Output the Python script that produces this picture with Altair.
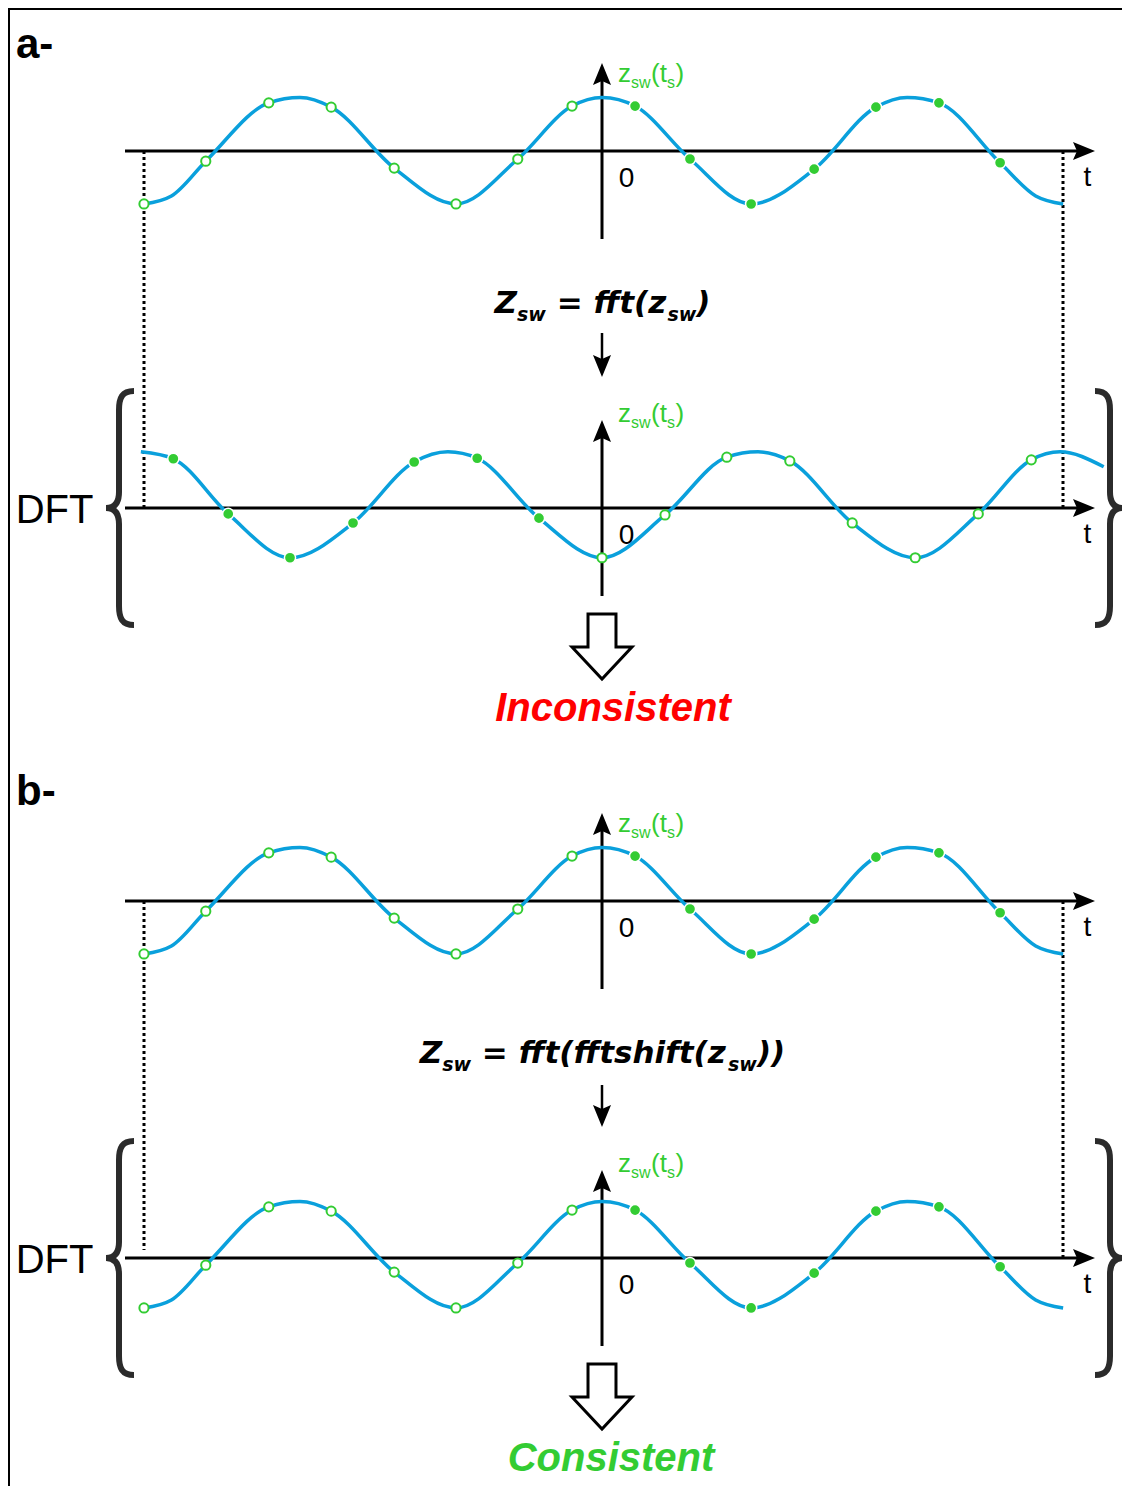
import altair as alt
import pandas as pd

# ---------------- values ----------------
# z_sw(t_s): sample instants (in sampling intervals, 0 on the vertical axis)
# and sample values (in units of the peak amplitude); 1 = hollow marker
zsw_t = [-7.34, -6.35, -5.34, -4.34, -3.33, -2.34, -1.35, -0.48, 0.53, 1.41, 2.39, 3.40, 4.39, 5.40, 6.38]
zsw_z = [-0.99, -0.19, 0.90, 0.82, -0.32, -0.99, -0.15, 0.84, 0.84, -0.15, -0.99, -0.34, 0.82, 0.90, -0.22]
zsw_hollow = [1, 1, 1, 1, 1, 1, 1, 1, 0, 0, 0, 0, 0, 0, 0]
# points (samples, extrema, ends)
zsw_curve_t = [-7.34, -6.90, -6.35, -5.34, -4.84, -4.34, -3.33, -2.34, -1.35, -0.48, 0.00, 0.53,
               1.41, 2.39, 3.40, 4.39, 4.89, 5.40, 6.38, 6.95, 7.39]
zsw_curve_z = [-0.99, -0.84, -0.19, 0.90, 1.00, 0.82, -0.32, -0.99, -0.15, 0.84, 1.00, 0.84,
               -0.15, -0.99, -0.34, 0.82, 1.00, 0.90, -0.22, -0.84, -0.99]

# DFT of panel a- (fft without fftshift)
dft_t = [-6.87, -5.99, -5.00, -3.99, -3.01, -2.00, -1.01, 0.00, 1.01, 2.00, 3.01, 4.01, 5.02, 6.03, 6.88]
dft_z = [0.92, -0.11, -0.93, -0.28, 0.86, 0.93, -0.19, -0.93, -0.13, 0.95, 0.88, -0.28, -0.93, -0.11, 0.90]
dft_hollow = [0, 0, 0, 0, 0, 0, 0, 1, 1, 1, 1, 1, 1, 1, 1]
dft_curve_t = [-7.39, -6.87, -5.99, -5.00, -3.99, -3.01, -2.47, -2.00, -1.01, 0.00, 1.01, 2.00,
               2.50, 3.01, 4.01, 5.02, 6.03, 6.88, 7.34, 8.04]
dft_curve_z = [1.05, 0.92, -0.11, -0.93, -0.28, 0.86, 1.05, 0.93, -0.19, -0.93, -0.13, 0.95,
               1.05, 0.88, -0.28, -0.93, -0.11, 0.90, 1.05, 0.77]

# texts
label_parts = ["z", "sw", "(t", "s", ")"]
eq_a_parts = ["Z", "sw", " = fft(z", "sw", ")"]
eq_b_parts = ["Z", "sw", " = fft(fftshift(z", "sw", "))"]
verdicts = ["Inconsistent", "Consistent"]
panel_tags = ["a-", "b-"]

# ---------------- layout & style ----------------
BLUE = "#0aa0dc"
GREEN = "#33cc33"
X0, DT, AMP = 602, 62.4, 53.5
W, H = 1114, 1478

panels = [
    dict(axis=151, base=151, wave="zsw", label_dy=-69),
    dict(axis=508, base=508, wave="dft", label_dy=-86),
    dict(axis=901, base=901, wave="zsw", label_dy=-69),
    dict(axis=1258, base=1255, wave="zsw", label_dy=-86),
]
waves = {
    "zsw": (zsw_t, zsw_z, zsw_hollow, zsw_curve_t, zsw_curve_z),
    "dft": (dft_t, dft_z, dft_hollow, dft_curve_t, dft_curve_z),
}

xs = alt.Scale(domain=[8, 8 + W], nice=False, zero=False)
ys = alt.Scale(domain=[8, 8 + H], nice=False, zero=False, reverse=True)


def XE(f="X"):
    return alt.X(f"{f}:Q", scale=xs, axis=None)


def YE(f="Y"):
    return alt.Y(f"{f}:Q", scale=ys, axis=None)


# ---- curves and markers ----
crv, mk = [], []
for i, p in enumerate(panels):
    st, sz, sh, ct, cz = waves[p["wave"]]
    for t, z in zip(ct, cz):
        crv.append(dict(id=i, t=t, z=z, base=p["base"]))
    for t, z, h in zip(st, sz, sh):
        mk.append(dict(id=i, t=t, z=z, base=p["base"], hollow=h))
curve_df = pd.DataFrame(crv)
mark_df = pd.DataFrame(mk)
to_px = dict(X=f"{X0} + {DT} * datum.t", Y=f"datum.base - {AMP} * datum.z")

curves = alt.Chart(curve_df).transform_calculate(**to_px).mark_line(
    interpolate="monotone", color=BLUE, strokeWidth=3.5
).encode(x=XE(), y=YE(), detail="id:N", order="t:Q")

hollow = alt.Chart(mark_df).transform_filter("datum.hollow == 1").transform_calculate(**to_px).mark_point(
    shape="circle", filled=True, fill="white", stroke=GREEN, strokeWidth=2, size=85, opacity=1
).encode(x=XE(), y=YE())

solid = alt.Chart(mark_df).transform_filter("datum.hollow == 0").transform_calculate(**to_px).mark_point(
    shape="circle", filled=True, fill=GREEN, stroke="white", strokeWidth=1.5, size=125, opacity=1
).encode(x=XE(), y=YE())

# ---- rules: frame, axes, small arrows ----
rl = [
    dict(x=8, x2=8 + W, y=8.7, y2=8.7, w=2.6),
    dict(x=8.7, x2=8.7, y=8, y2=8 + H, w=2.6),
]
for p in panels:
    a = p["axis"]
    rl.append(dict(x=125, x2=1080, y=a, y2=a, w=3))
    rl.append(dict(x=X0, x2=X0, y=a - 80, y2=a + 88, w=3))
rl += [
    dict(x=X0, x2=X0, y=333, y2=368, w=2.5),
    dict(x=X0, x2=X0, y=1085, y2=1118, w=2.5),
]
rules = alt.Chart(pd.DataFrame(rl)).mark_rule(color="black").encode(
    x=XE("x"), x2="x2:Q", y=YE("y"), y2="y2:Q",
    strokeWidth=alt.StrokeWidth("w:Q", scale=None),
)

# ---- dotted guides (period boundaries) ----
dl = [
    dict(x=144, y=151, y2=508),
    dict(x=1063, y=151, y2=508),
    dict(x=144, y=901, y2=1250),
    dict(x=1063, y=901, y2=1258),
]
dotted = alt.Chart(pd.DataFrame(dl)).mark_rule(color="black", strokeWidth=3, strokeDash=[3, 3]).encode(
    x=XE("x"), y=YE("y"), y2="y2:Q"
)

# ---- arrow heads ----
ARROW = "M1,0L-1,-0.82L-0.64,0L-1,0.82Z"
ah = []
for p in panels:
    a = p["axis"]
    ah.append(dict(X=1084, Y=a, ang=0))
    ah.append(dict(X=X0, Y=a - 77, ang=270))
ah += [dict(X=X0, Y=366, ang=90), dict(X=X0, Y=1116, ang=90)]
heads = alt.Chart(pd.DataFrame(ah)).mark_point(
    shape=ARROW, filled=True, color="black", size=484, opacity=1, strokeWidth=0
).encode(x=XE(), y=YE(), angle=alt.Angle("ang:Q", scale=None))

# ---- hollow block arrows ----
BLOCK = "M-0.424,-0.985L0.424,-0.985L0.424,0.015L0.909,0.015L0,0.985L-0.909,0.015L-0.424,0.015Z"
blocks = alt.Chart(pd.DataFrame([dict(X=X0, Y=646.5), dict(X=X0, Y=1396.5)])).mark_point(
    shape=BLOCK, filled=True, fill="white", stroke="black", strokeWidth=3, size=4356, opacity=1,
    strokeJoin="miter"
).encode(x=XE(), y=YE())

# ---- curly braces ----
BRACE = ("M0.127,-0.992C0.025,-0.992,0,-0.932,0,-0.831L0,-0.136C0,-0.051,-0.034,0,-0.11,0"
         "C-0.034,0,0,0.051,0,0.136L0,0.831C0,0.932,0.025,0.992,0.127,0.992")
br = []
for a in (508, 1258):
    br += [dict(X=119, Y=a, ang=0), dict(X=1110, Y=a, ang=180)]
braces = alt.Chart(pd.DataFrame(br)).mark_point(
    shape=BRACE, filled=False, stroke="#2b2b2b", strokeWidth=6, size=55696, opacity=1
).encode(x=XE(), y=YE(), angle=alt.Angle("ang:Q", scale=None))

# ---- texts ----
reg = []
for p in panels:
    a = p["axis"]
    reg.append(dict(X=626.5, Y=a + 36, s=28, txt="0"))
    reg.append(dict(X=1087.5, Y=a + 35, s=28, txt="t"))
for a in (508, 1258):
    reg.append(dict(X=54.5, Y=a + 14.5, s=40, txt="DFT"))
regular = alt.Chart(pd.DataFrame(reg)).mark_text(
    font="Liberation Sans", align="center", baseline="alphabetic", color="black"
).encode(x=XE(), y=YE(), text="txt:N", size=alt.Size("s:Q", scale=None))

# z_sw(t_s) axis labels: pieces chained with Arial advance widths (em)
ARIAL = {"z": 0.5, "s": 0.5, "w": 0.722, "(": 0.333, "t": 0.278, ")": 0.333}
LF, LSUB = 26, 16
lab = []
for p in panels:
    x = 618
    for k, part in enumerate(label_parts):
        sub = k % 2 == 1
        f = LSUB if sub else LF
        lab.append(dict(X=x, Y=p["axis"] + p["label_dy"] + (6 if sub else 0), s=f, txt=part))
        x += sum(ARIAL[c] for c in part) * f + (0.5 if sub else 0)
labels = alt.Chart(pd.DataFrame(lab)).mark_text(
    font="Liberation Sans", align="left", baseline="alphabetic", color=GREEN
).encode(x=XE(), y=YE(), text="txt:N", size=alt.Size("s:Q", scale=None))

# equations: DejaVu Sans Bold Oblique advance widths (em) to chain the pieces
ADV = {" ": 0.348, "(": 0.457, ")": 0.457, "=": 0.838, "Z": 0.725, "f": 0.435, "h": 0.712,
       "i": 0.343, "s": 0.595, "t": 0.478, "w": 0.924, "z": 0.583}
FS, FSUB = 31, 19
eq = []
for parts, base in ((eq_a_parts, 313), (eq_b_parts, 1063)):
    sizes = [FSUB if k % 2 else FS for k in range(len(parts))]
    widths = [sum(ADV[c] for c in s) * f for s, f in zip(parts, sizes)]
    x = 602.5 - sum(widths) / 2
    for k, (s, f, w) in enumerate(zip(parts, sizes, widths)):
        lead = len(s) - len(s.lstrip(" "))
        eq.append(dict(X=x + lead * ADV[" "] * f, Y=base + (8 if k % 2 else 0), s=f, txt=s.strip(" ")))
        x += w
equations = alt.Chart(pd.DataFrame(eq)).mark_text(
    font="DejaVu Sans", fontStyle="italic", fontWeight="bold", align="left", baseline="alphabetic",
    color="black"
).encode(x=XE(), y=YE(), text="txt:N", size=alt.Size("s:Q", scale=None))

verd = alt.Chart(pd.DataFrame([
    dict(X=613, Y=721, txt=verdicts[0], c="#ff0000"),
    dict(X=611, Y=1471, txt=verdicts[1], c=GREEN),
])).mark_text(
    font="Liberation Sans", fontStyle="italic", fontWeight="bold", fontSize=40, align="center",
    baseline="alphabetic"
).encode(x=XE(), y=YE(), text="txt:N", color=alt.Color("c:N", scale=None))

tags = alt.Chart(pd.DataFrame([
    dict(X=16, Y=58, txt=panel_tags[0]),
    dict(X=16, Y=805, txt=panel_tags[1]),
])).mark_text(
    font="Liberation Sans", fontWeight="bold", fontSize=42, align="left", baseline="alphabetic", color="black"
).encode(x=XE(), y=YE(), text="txt:N")

chart = alt.layer(
    rules, dotted, curves, hollow, solid, heads, blocks, braces, regular, labels, equations, verd, tags
).properties(
    width=W, height=H, padding=0, autosize=alt.AutoSizeParams(type="none"), background="white"
).configure_view(stroke=None)

chart.save("out.html", embed_options={"renderer": "svg", "actions": False})
